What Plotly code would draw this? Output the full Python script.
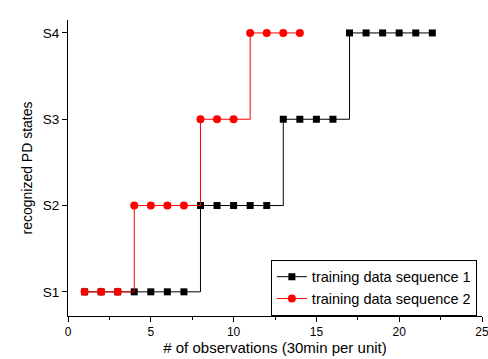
import plotly.graph_objects as go

x1 = list(range(1, 23))
y1 = [1]*7 + [2]*5 + [3]*4 + [4]*6
x2 = list(range(1, 15))
y2 = [1]*3 + [2]*4 + [3]*3 + [4]*4
state_vals = [1, 2, 3, 4]
state_labels = ["S1", "S2", "S3", "S4"]
x_ticks = [0, 5, 10, 15, 20, 25]

fig = go.Figure()
fig.add_trace(go.Scatter(x=x1, y=y1, mode="lines+markers", name="training data sequence 1",
                         line=dict(color="black", width=1, shape="hv"),
                         marker=dict(symbol="square", size=7, color="black")))
fig.add_trace(go.Scatter(x=x2, y=y2, mode="lines+markers", name="training data sequence 2",
                         line=dict(color="#ff0000", width=1, shape="hv"),
                         marker=dict(symbol="circle", size=8, color="#ff0000")))

fig.update_layout(
    width=488, height=359,
    margin=dict(l=68, r=6, t=20, b=43),
    paper_bgcolor="white", plot_bgcolor="white",
    font=dict(family="Liberation Sans, Arial", size=12, color="black"),
    showlegend=True,
    legend=dict(x=0.49, y=0.19, xanchor="left", yanchor="top",
                bordercolor="black", borderwidth=1, bgcolor="white",
                font=dict(size=14.5), tracegroupgap=0, itemwidth=30),
    xaxis=dict(range=[0, 25], tickvals=x_ticks, showline=True, linecolor="black",
               linewidth=1, ticks="outside", ticklen=5, tickcolor="black", showgrid=False,
               zeroline=False, tickfont=dict(size=12), ticklabeloverflow="allow", automargin=False,
               minor=dict(dtick=2.5, tick0=0, ticks="outside", ticklen=3, tickcolor="black", showgrid=False),
               title=dict(text="# of observations (30min per unit)", font=dict(size=15), standoff=1)),
    yaxis=dict(range=[0.72, 4.15], tickvals=state_vals, ticktext=state_labels, showline=True,
               linecolor="black", linewidth=1, ticks="outside", ticklen=5, tickcolor="black",
               showgrid=False, zeroline=False, tickfont=dict(size=13.5), automargin=False,
               title=dict(text="recognized PD states", font=dict(size=14), standoff=6)),
)
fig.write_html("out.html")
